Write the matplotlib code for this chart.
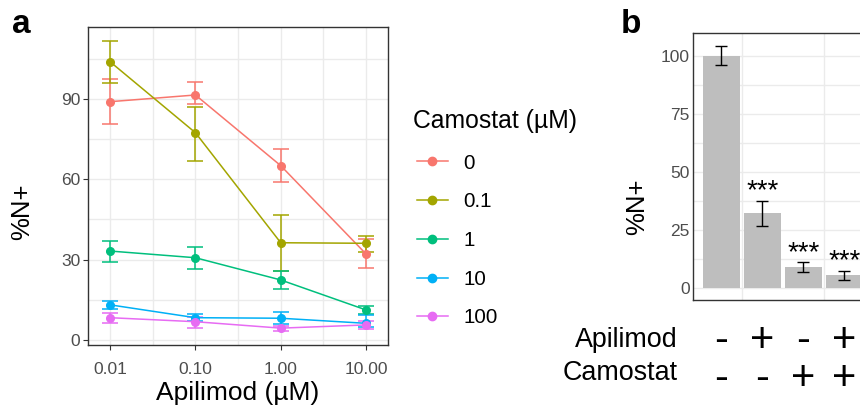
import matplotlib.pyplot as plt
import matplotlib.transforms as mtransforms
from matplotlib.lines import Line2D
from matplotlib import ticker
import numpy as np

plt.rcParams['font.family'] = ['Liberation Sans', 'DejaVu Sans']

# panel a data: %N+ vs apilimod, one series per camostat dose
apilimod = [0.01, 0.1, 1, 10]
apilimod_labels = ['0.01', '0.10', '1.00', '10.00']
camostat = ['0', '0.1', '1', '10', '100']
color = ['#F8766D', '#A3A500', '#00BF7D', '#00B0F6', '#E76BF3']

mean_a = [
    [89.0, 91.5, 65.1, 32.1],
    [103.9, 77.4, 36.3, 36.1],
    [33.2, 30.7, 22.4, 11.2],
    [13.1, 8.3, 8.1, 6.2],
    [8.3, 6.8, 4.4, 5.6],
]
hi_a = [
    [97.4, 96.5, 71.2, 37.6],
    [111.8, 86.9, 46.7, 39.0],
    [37.0, 34.8, 25.8, 12.7],
    [14.7, 9.8, 10.3, 9.3],
    [10.0, 8.5, 5.3, 7.2],
]
lo_a = [
    [80.5, 88.0, 59.0, 26.8],
    [95.9, 66.8, 25.8, 33.0],
    [29.2, 26.4, 18.9, 9.6],
    [11.6, 6.9, 5.9, 5.0],
    [6.5, 4.6, 3.5, 4.0],
]

# panel b data
conditions = [1, 2, 3, 4]
apilimod_sign = ['-', '+', '-', '+']
camostat_sign = ['-', '-', '+', '+']
mean_b = [100.0, 32.3, 9.2, 5.6]
hi_b = [104.5, 37.6, 11.1, 7.5]
lo_b = [96.0, 26.7, 7.0, 3.5]
stars = ['', '***', '***', '***']

grid_c = '#EBEBEB'
border_c = '#333333'
tick_c = '#4D4D4D'


def style_axes(ax):
    for s in ax.spines.values():
        s.set_color(border_c)
        s.set_linewidth(1.0)
    ax.tick_params(which='major', length=3.6, width=0.8, color=border_c,
                   labelcolor=tick_c, labelsize=12.5, pad=2)
    ax.tick_params(which='minor', length=0)
    ax.grid(True, which='both', color=grid_c, linewidth=1.0)
    ax.set_axisbelow(True)


fig = plt.figure(figsize=(8.6, 4.07), dpi=100)

# ---- panel a
ax = fig.add_axes([88/860, 1-345/407, 300/860, 318/407])
style_axes(ax)
ax.tick_params(axis='x', which='major', pad=8.5)
handles = []
for i in range(len(camostat)):
    m = np.array(mean_a[i])
    err = [m - np.array(lo_a[i]), np.array(hi_a[i]) - m]
    ax.errorbar(apilimod, m, yerr=err, color=color[i], linewidth=1.1,
                elinewidth=1.1, capsize=6, capthick=1.1, marker='o',
                markersize=5.5)
    handles.append(Line2D([], [], color=color[i], linewidth=1.1, marker='o',
                          markersize=6, label=camostat[i]))
ax.set_xscale('log')
ax.set_xlim(0.0055, 18.1)
ax.set_ylim(-1.9, 116.9)
ax.set_xticks(apilimod, labels=apilimod_labels)
ax.xaxis.set_minor_locator(ticker.FixedLocator([0.0316, 0.316, 3.16]))
ax.xaxis.set_minor_formatter(ticker.NullFormatter())
ax.set_yticks([0, 30, 60, 90])
ax.yaxis.set_minor_locator(ticker.FixedLocator([15, 45, 75, 105]))
ax.set_xlabel('Apilimod (µM)', fontsize=19, labelpad=3)
ax.set_ylabel('%N+', fontsize=18.5, va='center')
ax.yaxis.set_label_coords(-0.22, 0.418)

fig.text(413/860, 1-128/407, 'Camostat (µM)', ha='left', va='baseline', fontsize=17.8)
leg = ax.legend(handles=handles, loc='center left',
                bbox_to_anchor=(417/860, 1-240.5/407), bbox_transform=fig.transFigure,
                frameon=False, fontsize=14.8,
                handlelength=1.5, labelspacing=0.96, handletextpad=0.75,
                borderpad=0, borderaxespad=0)

# ---- panel b
axb = fig.add_axes([693/860, 1-300/407, 180/860, 267/407])
style_axes(axb)
axb.tick_params(axis='y', which='major', length=0, pad=2.5)
axb.grid(False, axis='x', which='both')
for xv in [1.5, 3.5]:
    axb.axvline(xv, color=grid_c, linewidth=1.0, zorder=0)
m = np.array(mean_b)
axb.bar(conditions, mean_b, width=0.9, color='#BEBEBE', zorder=2)
axb.errorbar(conditions, mean_b, yerr=[m - np.array(lo_b), np.array(hi_b) - m],
             fmt='none', ecolor='black', elinewidth=1.0, capsize=4.5, capthick=1.0, zorder=3)
for x, s, y in zip(conditions, stars, hi_b):
    if s:
        axb.text(x, y + 1, s, ha='center', va='baseline', fontsize=20)
axb.set_xlim(0.305, 4.7)
axb.set_ylim(-5.2, 110)
axb.set_xticks([])
axb.set_yticks([0, 25, 50, 75, 100])
axb.yaxis.set_minor_locator(ticker.FixedLocator([12.5, 37.5, 62.5, 87.5]))
axb.set_ylabel('%N+', fontsize=18.5, va='center')
axb.yaxis.set_label_coords(-0.311, 0.348)

trans = mtransforms.blended_transform_factory(axb.transData, fig.transFigure)
fig.text(678/860, 1-347/407, 'Apilimod', ha='right', va='baseline', fontsize=19.4)
fig.text(678/860, 1-380/407, 'Camostat', ha='right', va='baseline', fontsize=19.4)
for x, a, c in zip(conditions, apilimod_sign, camostat_sign):
    fig.text(x, 1-352/407, a, transform=trans, ha='center', va='baseline', fontsize=30)
    fig.text(x, 1-390/407, c, transform=trans, ha='center', va='baseline', fontsize=30)

fig.text(12/860, 1-33/407, 'a', fontsize=24, fontweight='bold', va='baseline')
fig.text(621/860, 1-33/407, 'b', fontsize=24, fontweight='bold', va='baseline')

fig.savefig('out.png', dpi=100)
